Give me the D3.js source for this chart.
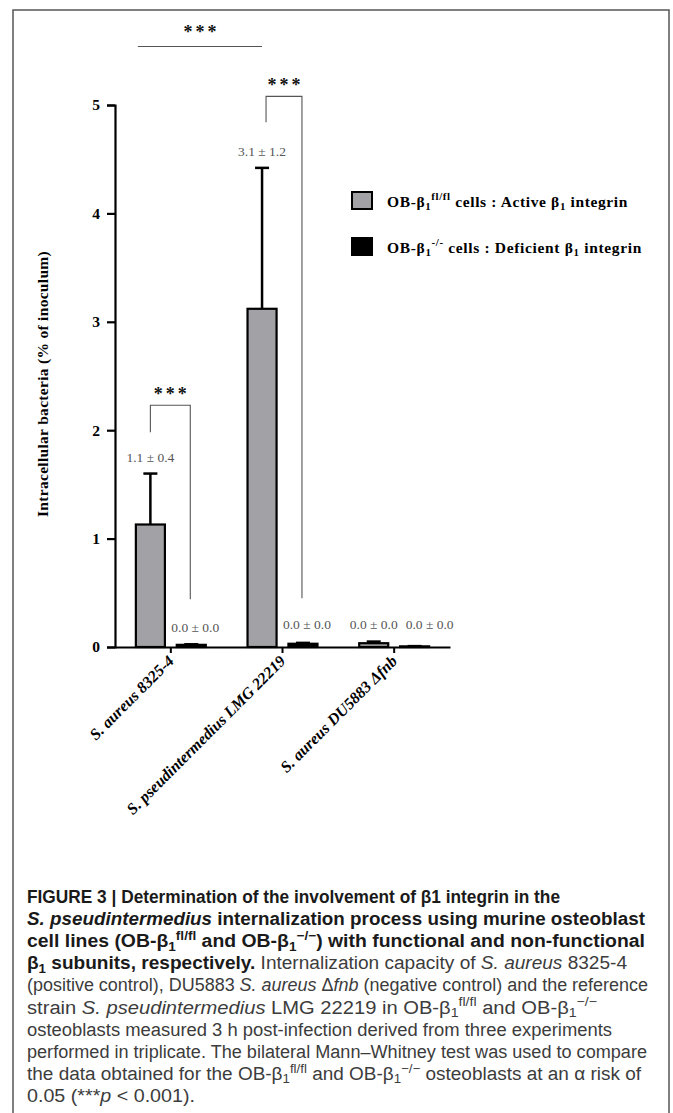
<!DOCTYPE html>
<html><head><meta charset="utf-8">
<script src="https://cdn.jsdelivr.net/npm/d3@7"></script>
<style>body{margin:0;background:#fff} svg{display:block}</style>
</head><body><svg id="c" width="673" height="1113"></svg>
<script>
// ---------- data ----------
const categories = ["S. aureus 8325-4", "S. pseudintermedius LMG 22219", "S. aureus DU5883 Δfnb"];
const seriesKeys = ["active", "deficient"];
const activeMeans = [1.13, 3.12, 0.035];
const activeErrors = [0.47, 1.30, 0.015];
const deficientMeans = [0.02, 0.03, 0.006];
const deficientErrors = [0.005, 0.008, 0.002];
const activeLabels = ["1.1 ± 0.4", "3.1 ± 1.2", "0.0 ± 0.0"];
const deficientLabels = ["0.0 ± 0.0", "0.0 ± 0.0", "0.0 ± 0.0"];
const activeLabelLevels = [1.71, 4.53, 0.165];
const deficientLabelLevels = [0.14, 0.165, 0.165];
const yTicks = [0, 1, 2, 3, 4, 5];
const yTitle = "Intracellular bacteria (% of inoculum)";
// significance brackets within groups (levels in data units)
const sigGroups = [0, 1];
const sigTopLevels = [2.23, 5.08];
const sigLeftBottoms = [1.98, 4.84];
const sigRightBottoms = [0.44, 0.45];
const sigAcrossLevel = 5.54;

// ---------- layout ----------
const svg = d3.select("#c");
const serif = "'Liberation Serif','Times New Roman',serif";
const sans = "'Liberation Sans',Arial,Helvetica,sans-serif";
const greyFill = "#a2a2a6";

svg.append("rect").attr("width", 673).attr("height", 1113).attr("fill", "#fff");
svg.append("path").attr("d", "M13,1113V10H669V1113").attr("fill", "none")
  .attr("stroke", "#555").attr("stroke-width", 1.5);

const x0 = d3.scaleBand().domain(d3.range(categories.length)).range([115, 450]).padding(0);
const x1 = d3.scaleBand().domain(seriesKeys).range([0, x0.bandwidth()]).paddingInner(0.29).paddingOuter(0.51);
const y = d3.scaleLinear().domain([0, 5]).range([647, 105]);

const means = {active: activeMeans, deficient: deficientMeans};
const errs = {active: activeErrors, deficient: deficientErrors};
const labs = {active: activeLabels, deficient: deficientLabels};
const labLv = {active: activeLabelLevels, deficient: deficientLabelLevels};
const fills = {active: greyFill, deficient: "#000"};

const rows = [];
categories.forEach((c, i) => seriesKeys.forEach(k => rows.push({i, k, v: means[k][i], e: errs[k][i], lab: labs[k][i], lv: labLv[k][i]})));
const cx = d => x0(d.i) + x1(d.k) + x1.bandwidth() / 2;

// error bars
const eb = svg.append("g").attr("stroke", "#000").attr("stroke-width", 2.5);
rows.forEach(d => {
  eb.append("line").attr("x1", cx(d)).attr("x2", cx(d)).attr("y1", y(d.v)).attr("y2", y(d.v + d.e));
  eb.append("line").attr("x1", cx(d) - 7).attr("x2", cx(d) + 7).attr("y1", y(d.v + d.e)).attr("y2", y(d.v + d.e));
});

// bars
svg.append("g").selectAll("rect").data(rows).join("rect")
  .attr("x", d => x0(d.i) + x1(d.k))
  .attr("width", x1.bandwidth())
  .attr("y", d => y(d.v))
  .attr("height", d => y(0) - y(d.v))
  .attr("fill", d => fills[d.k])
  .attr("stroke", "#000").attr("stroke-width", 2.2);

// value labels (nudged right to avoid overlapping a neighbour)
const labG = svg.append("g");
let prevRight = -Infinity, prevLevel = null;
rows.forEach(d => {
  const t = labG.append("text")
    .attr("y", y(d.lv))
    .attr("text-anchor", "middle")
    .attr("font-family", serif).attr("font-size", 13.5).attr("fill", "#555")
    .text(d.lab);
  const w = t.node().getComputedTextLength();
  let xc = cx(d) + (d.k === "deficient" ? 4 : 0);
  if (prevLevel !== null && Math.abs(prevLevel - d.lv) < 0.05 && xc - w / 2 < prevRight + 8) xc = prevRight + 8 + w / 2;
  t.attr("x", xc);
  prevRight = xc + w / 2; prevLevel = d.lv;
});

// significance brackets
const sg = svg.append("g").attr("stroke", "#555").attr("stroke-width", 1.1).attr("fill", "none");
function stars(xc, yb) {
  svg.append("text").attr("x", xc + 1.5).attr("y", yb).attr("text-anchor", "middle")
    .attr("font-family", serif).attr("font-weight", "bold").attr("font-size", 18)
    .attr("letter-spacing", 3).attr("fill", "#111").text("***");
}
sigGroups.forEach((g, j) => {
  const xl = x0(g) + x1("active") + x1.bandwidth() / 2 + (j === 1 ? 4 : 0);
  const xr = x0(g) + x1("deficient") + x1.bandwidth() / 2 - 1;
  sg.append("path").attr("d", `M${xl},${y(sigLeftBottoms[j])}V${y(sigTopLevels[j])}H${xr}V${y(sigRightBottoms[j])}`);
  stars((xl + xr) / 2, y(sigTopLevels[j]) - 5);
});
{
  const xa = x0(0) + x1("active") + 2;
  const xb = x0(1) + x1("active") + x1.bandwidth() / 2;
  sg.append("line").attr("x1", xa).attr("x2", xb).attr("y1", y(sigAcrossLevel)).attr("y2", y(sigAcrossLevel));
  stars((xa + xb) / 2, y(sigAcrossLevel) - 8);
}

// y axis
const ya = svg.append("g").attr("transform", "translate(115,0)")
  .call(d3.axisLeft(y).tickValues(yTicks).tickFormat(d3.format("d")).tickSize(8).tickPadding(7));
ya.select(".domain").attr("stroke-width", 2.2).attr("stroke", "#000");
ya.selectAll(".tick line").attr("stroke-width", 2.2).attr("stroke", "#000");
ya.selectAll(".tick text").attr("font-family", serif).attr("font-weight", "bold").attr("font-size", 15.5).attr("fill", "#000");

// x axis
const xa = svg.append("g").attr("transform", `translate(0,${y(0)})`)
  .call(d3.axisBottom(x0).tickSize(6).tickSizeOuter(0).tickFormat(""));
xa.select(".domain").attr("stroke-width", 2.2).attr("stroke", "#000");
xa.selectAll(".tick line").attr("stroke-width", 2).attr("stroke", "#000");

categories.forEach((c, i) => {
  svg.append("text")
    .attr("transform", `translate(${x0(i) + x0.bandwidth() / 2 + 4},${y(0) + 15}) rotate(-45)`)
    .attr("text-anchor", "end").attr("font-family", serif).attr("font-weight", "bold")
    .attr("font-size", 16).attr("font-style", "italic").attr("fill", "#000")
    .text(c);
});

// y title
svg.append("text").attr("transform", "translate(48,384) rotate(-90)")
  .attr("text-anchor", "middle").attr("font-family", serif).attr("font-weight", "bold")
  .attr("font-size", 15.5).attr("letter-spacing", 0.3).attr("fill", "#000").text(yTitle);

// helpers
function fitSpacing(t, target) {
  const node = t.node();
  const w = node.getComputedTextLength();
  const n = node.textContent.length;
  t.attr("letter-spacing", ((target - w) / n).toFixed(3));
}
function rich(sel, parts, baseSize, supK, subK) {
  let shift = 0;
  parts.forEach(p => {
    const [txt, kind, style] = p;
    const target = kind === "sup" ? -supK * baseSize : kind === "sub" ? subK * baseSize : 0;
    const ts = sel.append("tspan").attr("dy", target - shift).text(txt);
    shift = target;
    if (kind) ts.attr("font-size", baseSize * 0.7);
    if (style && style.includes("b")) ts.attr("font-weight", "bold").attr("fill", "#1a1a1a");
    if (style && style.includes("i")) ts.attr("font-style", "italic");
  });
}

// legend
const legendItems = [
  {fill: greyFill, w: 241, parts: [["OB-β"], ["1", "sub"], ["fl/fl", "sup"], [" cells : Active β"], ["1", "sub"], [" integrin"]]},
  {fill: "#000", w: 255, parts: [["OB-β"], ["1", "sub"], ["-/-", "sup"], [" cells : Deficient β"], ["1", "sub"], [" integrin"]]}
];
legendItems.forEach((it, j) => {
  const yy = 192 + j * 46;
  svg.append("rect").attr("x", 352).attr("y", yy).attr("width", 20).attr("height", 17)
    .attr("fill", it.fill).attr("stroke", "#000").attr("stroke-width", 2);
  const t = svg.append("text").attr("x", 387).attr("y", yy + 15).attr("font-family", serif)
    .attr("font-weight", "bold").attr("font-size", 15.5).attr("fill", "#000");
  rich(t, it.parts, 15.5, 0.45, 0.22);
  fitSpacing(t, it.w);
});

// caption
const capLines = [
  [["FIGURE 3 | Determination of the involvement of β1 integrin in the", null, "b"]],
  [["S. pseudintermedius", null, "bi"], [" internalization process using murine osteoblast", null, "b"]],
  [["cell lines (OB-β", null, "b"], ["1", "sub", "b"], ["fl/fl", "sup", "b"], [" and OB-β", null, "b"], ["1", "sub", "b"], ["−/−", "sup", "b"], [") with functional and non-functional", null, "b"]],
  [["β", null, "b"], ["1", "sub", "b"], [" subunits, respectively.", null, "b"], [" Internalization capacity of "], ["S. aureus", null, "i"], [" 8325-4"]],
  [["(positive control), DU5883 "], ["S. aureus", null, "i"], [" Δ"], ["fnb", null, "i"], [" (negative control) and the reference"]],
  [["strain "], ["S. pseudintermedius", null, "i"], [" LMG 22219 in OB-β"], ["1", "sub"], ["fl/fl", "sup"], [" and OB-β"], ["1", "sub"], ["−/−", "sup"]],
  [["osteoblasts measured 3 h post-infection derived from three experiments"]],
  [["performed in triplicate. The bilateral Mann–Whitney test was used to compare"]],
  [["the data obtained for the OB-β"], ["1", "sub"], ["fl/fl", "sup"], [" and OB-β"], ["1", "sub"], ["−/−", "sup"], [" osteoblasts at an α risk of"]],
  [["0.05 (***"], ["p", null, "i"], [" < 0.001)."]]
];
const capRight = [560, 645, 645, 627, 648, 597, 612, 647, 641, 195];
const capSize = 18;
const capLeft = 27;
capLines.forEach((line, j) => {
  const t = svg.append("text").attr("x", capLeft).attr("y", 903 + j * 22.1)
    .attr("font-family", sans).attr("font-size", capSize).attr("fill", "#3c3c3c");
  rich(t, line, capSize, 0.4, 0.2);
  t.attr("textLength", capRight[j] - capLeft).attr("lengthAdjust", "spacingAndGlyphs");
});
</script></body></html>
